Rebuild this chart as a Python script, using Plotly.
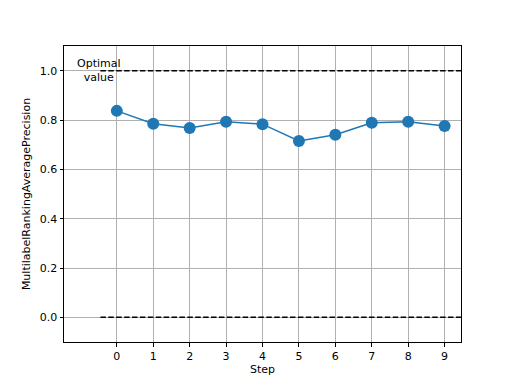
import plotly.graph_objects as go

steps = [0, 1, 2, 3, 4, 5, 6, 7, 8, 9]
values = [0.837, 0.785, 0.768, 0.793, 0.783, 0.715, 0.740, 0.789, 0.793, 0.776]
optimal_value = 1.0
baseline_value = 0.0
line_x = [-0.45, 9.45]
x_ticks = [0, 1, 2, 3, 4, 5, 6, 7, 8, 9]
y_ticks = [0.0, 0.2, 0.4, 0.6, 0.8, 1.0]

dash_style = "5.5px,2.4px"

fig = go.Figure()
fig.add_trace(go.Scatter(x=line_x, y=[optimal_value] * 2, mode="lines",
                         line=dict(color="black", dash=dash_style, width=1.5), showlegend=False))
fig.add_trace(go.Scatter(x=line_x, y=[baseline_value] * 2, mode="lines",
                         line=dict(color="black", dash=dash_style, width=1.5), showlegend=False))
fig.add_trace(go.Scatter(x=steps, y=values, mode="lines+markers",
                         line=dict(color="#1f77b4", width=1.5),
                         marker=dict(color="#1f77b4", size=12), showlegend=False))

fig.add_annotation(x=-0.5, y=optimal_value, text="Optimal<br>value", showarrow=False,
                   xanchor="center", yanchor="middle", align="center",
                   font=dict(size=11, color="black"))

axis_common = dict(showline=True, linecolor="black", linewidth=1, mirror=True,
                   ticks="outside", ticklen=3.5, tickcolor="black",
                   showgrid=True, gridcolor="#b0b0b0", gridwidth=1, zeroline=False,
                   tickfont=dict(size=11, color="black"), automargin=False)

fig.update_xaxes(range=[-1.45, 9.45], tickvals=x_ticks, ticktext=[str(t) for t in x_ticks],
                 title=dict(text="Step", font=dict(size=11, color="black"), standoff=2),
                 **axis_common)
fig.update_yaxes(range=[-0.1, 1.1], tickvals=y_ticks, ticktext=[f"{t:.1f}" for t in y_ticks],
                 title=dict(text="MultilabelRankingAveragePrecision", font=dict(size=11, color="black"), standoff=6),
                 **axis_common)

fig.update_layout(width=496, height=368, margin=dict(l=56, r=43, t=38, b=34),
                  plot_bgcolor="white", paper_bgcolor="white",
                  font=dict(family="DejaVu Sans", size=11, color="black"))

fig.write_html("out.html")
